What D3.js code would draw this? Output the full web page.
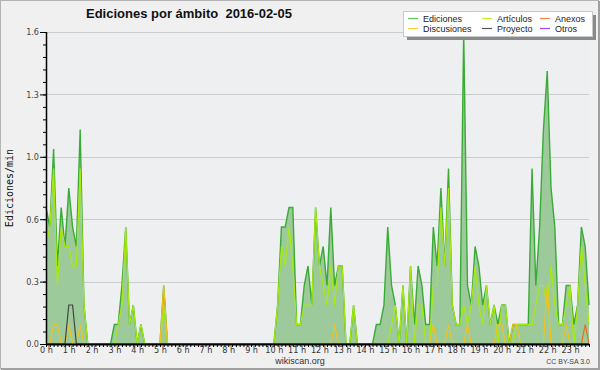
<!DOCTYPE html>
<html>
<head>
<meta charset="utf-8">
<script src="https://cdn.jsdelivr.net/npm/d3@7"></script>
<style>
  body { margin: 0; background: #f0f0f0; }
  svg text { font-family: "Liberation Sans", Arial, sans-serif; }
</style>
</head>
<body>
<svg id="chart" width="600" height="370"></svg>
<script>
// 10 minute slots, 144 per day (0 h .. 23 h 50)
var ediciones = [
  0.7,0.6,1.0,0.4,0.7,0.5,0.8,0.6,0.5,1.1,0.2,0,
  0,0,0,0,0,0,0.1,0.1,0.3,0.6,0.1,0.2,
  0,0.1,0,0,0,0,0,0.3,0,0,0,0,
  0,0,0,0,0,0,0,0,0,0,0,0,
  0,0,0,0,0,0,0,0,0,0,0,0,
  0,0.2,0.6,0.6,0.7,0.7,0.1,0.1,0.3,0.4,0.2,0.7,
  0.4,0.5,0.3,0.7,0.3,0.4,0.4,0,0,0.2,0,0,
  0,0,0,0.1,0.1,0.2,0.6,0.3,0.2,0,0.3,0,
  0.4,0.1,0.4,0.3,0.1,0.1,0.6,0.4,0.8,0.4,0.9,0.2,
  0.1,0.1,1.6,0.3,0.2,0.5,0.4,0.2,0.3,0.1,0.2,0.1,
  0.2,0.2,0,0.1,0.1,0.1,0.1,0.1,0.9,0.3,0.6,1.1,
  1.4,0.8,0.6,0.1,0.1,0.3,0.3,0.1,0.2,0.6,0.5,0.2
]
var articulos = [
  0.5,0.6,0.9,0.3,0.6,0.5,0.5,0.4,0.4,0.9,0.2,0,
  0,0,0,0,0,0,0,0.1,0.2,0.6,0.1,0.2,
  0,0.1,0,0,0,0,0,0.2,0,0,0,0,
  0,0,0,0,0,0,0,0,0,0,0,0,
  0,0,0,0,0,0,0,0,0,0,0,0,
  0,0.2,0.5,0.4,0.6,0.4,0.1,0.1,0.2,0.2,0.2,0.7,
  0.4,0.3,0.2,0.4,0.2,0.4,0.4,0,0,0.2,0,0,
  0,0,0,0,0,0,0,0.1,0.2,0,0.3,0,
  0.4,0,0.2,0.2,0,0,0.3,0.3,0.7,0.4,0.8,0.2,
  0.1,0.1,0.2,0.1,0.2,0.4,0.2,0.1,0.3,0.1,0.2,0,
  0.2,0.2,0,0,0.1,0.1,0.1,0.1,0.1,0.2,0.3,0.3,
  0.2,0.4,0.2,0.1,0.1,0.2,0.3,0,0.2,0.5,0.3,0.1
]
var anexos = [
  0,0,0,0,0,0,0,0,0,0,0,0,
  0,0,0,0,0,0,0,0,0,0,0,0,
  0,0,0,0,0,0,0,0,0,0,0,0,
  0,0,0,0,0,0,0,0,0,0,0,0,
  0,0,0,0,0,0,0,0,0,0,0,0,
  0,0,0,0,0,0,0,0,0,0,0,0,
  0,0,0,0,0,0,0,0,0,0,0,0,
  0,0,0,0,0,0,0,0,0,0,0,0,
  0,0,0,0,0,0,0,0,0,0,0,0,
  0,0,0,0,0,0,0,0,0,0,0,0,
  0,0,0,0,0,0,0,0,0,0,0,0,
  0,0,0,0,0,0,0,0,0,0,0.1,0
]
var discusiones = [
  0,0,0.1,0.1,0,0,0.1,0,0,0.1,0,0,
  0,0,0,0,0,0,0,0,0,0,0,0,
  0,0,0,0,0,0,0,0.3,0,0,0,0,
  0,0,0,0,0,0,0,0,0,0,0,0,
  0,0,0,0,0,0,0,0,0,0,0,0,
  0,0,0,0,0,0,0,0,0,0,0,0,
  0,0,0,0,0.1,0,0,0,0,0,0,0,
  0,0,0,0,0,0,0,0,0,0,0,0,
  0,0,0,0,0,0,0.1,0,0,0,0.1,0,
  0,0,0,0.1,0,0,0,0,0,0,0,0.1,
  0.1,0,0,0.1,0.1,0,0,0,0,0,0,0,
  0.3,0,0,0,0,0.1,0,0,0,0,0,0
]
var proyecto = [
  0,0,0,0,0,0,0.2,0.2,0,0,0,0,
  0,0,0,0,0,0,0,0,0,0,0,0,
  0,0,0,0,0,0,0,0,0,0,0,0,
  0,0,0,0,0,0,0,0,0,0,0,0,
  0,0,0,0,0,0,0,0,0,0,0,0,
  0,0,0,0,0,0,0,0,0,0,0,0,
  0,0,0,0,0,0,0,0,0,0,0,0,
  0,0,0,0,0,0,0,0,0,0,0,0,
  0,0,0,0,0,0,0,0,0,0,0,0,
  0,0,0,0,0,0,0,0,0,0,0,0,
  0,0,0,0,0,0,0,0,0,0,0,0,
  0,0,0,0,0,0,0,0,0,0,0,0
]
var otros = d3.range(144).map(d => 0)

var legendNames = ["Ediciones", "Artículos", "Anexos", "Discusiones", "Proyecto", "Otros"]
var legendColors = ["#5cc45c", "#c8f23a", "#f7844a", "#f9d23a", "#555555", "#9b4dff"]
var yTicks = [0, 0.32, 0.64, 0.96, 1.28, 1.6]

var dimensions = {
    width: 600,
    height: 370,
    margin: { top: 32, bottom: 26, left: 46, right: 11 }
}

var svg = d3.select("#chart")

svg.append("rect")
   .attr("x", 0.5).attr("y", 0.5)
   .attr("width", 598).attr("height", 368)
   .attr("fill", "#f0f0f0")
   .attr("stroke", "#b4b4b4")

// darker edge on the right and bottom, like the original frame
svg.append("path")
   .attr("d", "M599,1V369H1")
   .attr("fill", "none")
   .attr("stroke", "#a0a0a0")
   .attr("stroke-width", 2)

var xScale = d3.scaleLinear()
               .domain([0, 143])
               .range([dimensions.margin.left, dimensions.width - dimensions.margin.right])

var yScale = d3.scaleLinear()
               .domain([0, 1.6])
               .range([dimensions.height - dimensions.margin.bottom, dimensions.margin.top])

// plot background
svg.append("rect")
   .attr("x", xScale(0)).attr("y", yScale(1.6))
   .attr("width", xScale(143) - xScale(0))
   .attr("height", yScale(0) - yScale(1.6))
   .attr("fill", "#eeeff1")

// grid
svg.append("g")
   .selectAll("line")
   .data(yTicks)
   .enter()
   .append("line")
   .attr("x1", xScale(0)).attr("x2", xScale(143))
   .attr("y1", d => Math.round(yScale(d)) + 0.5)
   .attr("y2", d => Math.round(yScale(d)) + 0.5)
   .attr("stroke", "#cccccc")

var area = d3.area()
             .x((d, i) => xScale(i))
             .y0(yScale(0))
             .y1(d => yScale(d))

var line = d3.line()
             .x((d, i) => xScale(i))
             .y(d => yScale(d))

svg.append("path")
   .datum(ediciones)
   .attr("d", area)
   .attr("fill", "#9dca9a")

svg.append("path")
   .datum(ediciones)
   .attr("d", line)
   .attr("fill", "none")
   .attr("stroke", "#3aab36")
   .attr("stroke-width", 1.4)

var series = [
    {values: otros, color: "#9b4dff"},
    {values: articulos, color: "#a8ea10"},
    {values: anexos, color: "#ee6a24"},
    {values: discusiones, color: "#f2c21a"},
    {values: proyecto, color: "#444444"}
]

series.forEach(s => {
    svg.append("path")
       .datum(s.values)
       .attr("d", line)
       .attr("fill", "none")
       .attr("stroke", s.color)
       .attr("stroke-width", 1.2)
})

// x axis: a tick every 10 minutes, a label every hour
var xAxis = d3.axisBottom(xScale)
              .tickValues(d3.range(0, 144))
              .tickSize(3)
              .tickFormat(d => d % 6 === 0 ? (d / 6) + " h" : "")

svg.append("g")
   .attr("transform", `translate(0, ${yScale(0)})`)
   .call(xAxis)
   .call(g => g.select(".domain").attr("stroke-width", 2).attr("d", `M${xScale(0)},0.5H${xScale(143)}`))
   .call(g => g.selectAll("text")
               .attr("y", 8.5).attr("dy", 0)
               .attr("fill", "#333")
               .style("font-family", "'Liberation Sans Narrow', 'DejaVu Sans Condensed', sans-serif")
               .style("font-size", "9px"))

// y axis: minor ticks, then major ticks with labels
var yMinor = d3.axisLeft(yScale)
               .tickValues(d3.range(0, 26).map(k => k * 0.064))
               .tickSize(3)
               .tickFormat("")

svg.append("g")
   .attr("transform", `translate(${xScale(0)}, 0)`)
   .call(yMinor)
   .call(g => g.select(".domain").remove())

var yAxis = d3.axisLeft(yScale)
              .tickValues(yTicks)
              .tickSize(6)
              .tickPadding(1)
              .tickFormat(d3.format(".1f"))

svg.append("g")
   .attr("transform", `translate(${xScale(0)}, 0)`)
   .call(yAxis)
   .call(g => g.select(".domain").attr("stroke-width", 1.5).attr("d", `M0.5,${yScale(1.6)}V${yScale(0) + 1}`))
   .call(g => g.selectAll("text")
               .attr("fill", "#444")
               .style("font-family", "'Liberation Sans Narrow', 'DejaVu Sans Condensed', sans-serif")
               .style("font-size", "9px"))

var title = svg.append("text")
               .attr("x", 86)
               .attr("y", 18)
               .attr("font-weight", "bold")
               .attr("fill", "#111")
               .style("font-size", "13px")
               .style("white-space", "pre")
               .text("Ediciones por ámbito  2016-02-05")

var yLabel = svg.append("text")
                .attr("transform", `translate(13, ${(yScale(0) + yScale(1.6)) / 2}) rotate(-90)`)
                .attr("text-anchor", "middle")
                .attr("fill", "#111")
                .style("font-family", "'DejaVu Sans Mono', monospace")
                .style("font-size", "10px")
                .text("Ediciones/min")

svg.append("text")
   .attr("x", 300)
   .attr("y", 364)
   .attr("text-anchor", "middle")
   .attr("fill", "#333")
   .style("font-size", "9px")
   .text("wikiscan.org")

svg.append("text")
   .attr("x", 590)
   .attr("y", 364)
   .attr("text-anchor", "end")
   .attr("fill", "#444")
   .style("font-size", "7px")
   .text("CC BY-SA 3.0")

// legend
var legend = svg.append("g")

legend.append("rect")
      .attr("x", 407).attr("y", 15)
      .attr("width", 189).attr("height", 25)
      .attr("fill", "#8a8a8a")

legend.append("rect")
      .attr("x", 403.5).attr("y", 11.5)
      .attr("width", 189).attr("height", 25)
      .attr("fill", "#ffffff")
      .attr("stroke", "#c8c8c8")

var legendItems = legend.selectAll(".item")
                        .data(legendNames)
                        .enter()
                        .append("g")
                        .attr("class", "item")
                        .attr("transform", (d, i) => `translate(${[408, 482, 540][i % 3]}, ${i < 3 ? 18.5 : 28.5})`)

legendItems.append("line")
           .attr("x1", 0).attr("x2", 10)
           .attr("y1", 0).attr("y2", 0)
           .attr("stroke", (d, i) => legendColors[i])
           .attr("stroke-width", 1.2)

legendItems.append("text")
           .attr("x", 15)
           .attr("y", 3.2)
           .attr("fill", "#222")
           .style("font-size", "9px")
           .text(d => d)
</script>
</body>
</html>
